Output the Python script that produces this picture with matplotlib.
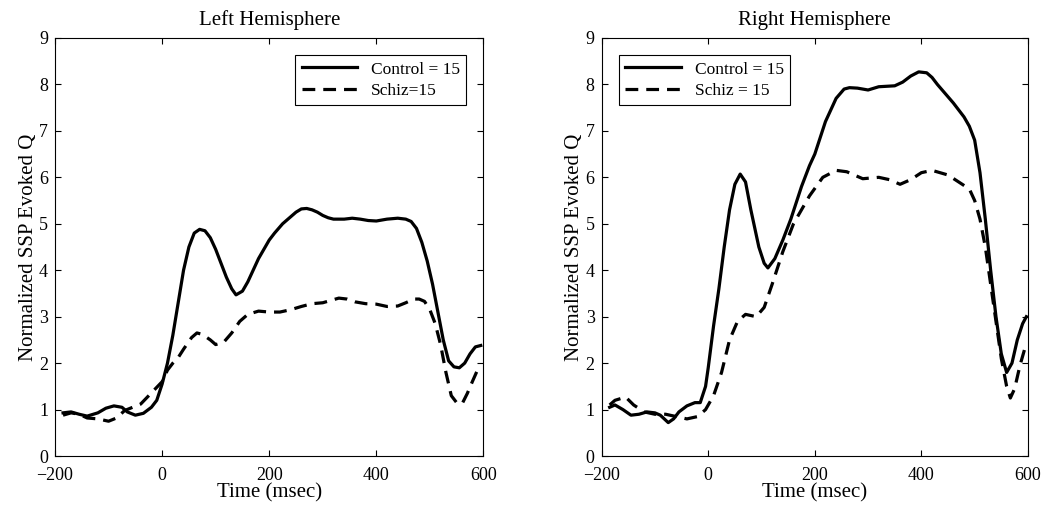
import matplotlib
matplotlib.use("Agg")
import matplotlib.pyplot as plt

plt.rcParams['font.family'] = ['Liberation Serif', 'DejaVu Serif']
plt.rcParams['axes.unicode_minus'] = True

# Left hemisphere, control group (solid)
left_ctrl_t = [-185, -170, -155, -140, -120, -105, -90, -75, -65, -50, -35, -20, -10, 0, 10, 20, 30,
               40, 50, 60, 70, 80, 90, 100, 110, 120, 130, 138, 150, 160, 170, 180, 190, 200, 210,
               225, 240, 250, 260, 270, 280, 290, 300, 310, 320, 340, 355, 370, 385, 400, 420, 440,
               455, 465, 475, 485, 495, 505, 515, 525, 535, 545, 555, 565, 575, 585, 595]
left_ctrl_q = [0.93, 0.95, 0.9, 0.86, 0.93, 1.03, 1.08, 1.05, 0.95, 0.88, 0.92, 1.05, 1.2, 1.55,
               2.0, 2.6, 3.3, 4.0, 4.5, 4.8, 4.88, 4.85, 4.7, 4.45, 4.15, 3.85, 3.6, 3.47, 3.55,
               3.75, 4.0, 4.25, 4.45, 4.65, 4.8, 5.0, 5.15, 5.25, 5.32, 5.33, 5.3, 5.25, 5.18, 5.13,
               5.1, 5.1, 5.12, 5.1, 5.07, 5.06, 5.1, 5.12, 5.1, 5.05, 4.9, 4.6, 4.2, 3.7, 3.1, 2.5,
               2.05, 1.92, 1.9, 2.0, 2.2, 2.35, 2.38]

# Left hemisphere, schizophrenia group (dashed)
left_schiz_t = [-185, -170, -155, -140, -120, -100, -85, -70, -55, -40, -25, -10, 0, 10, 20, 30,
                40, 55, 65, 75, 90, 100, 115, 130, 145, 160, 180, 200, 220, 240, 260, 280, 300, 315,
                330, 345, 360, 380, 400, 420, 440, 455, 470, 480, 490, 500, 510, 520, 530, 540, 550,
                560, 570, 580, 590, 595]
left_schiz_q = [0.88, 0.93, 0.9, 0.82, 0.8, 0.75, 0.82, 0.98, 1.05, 1.12, 1.3, 1.48, 1.6, 1.85,
                2.0, 2.12, 2.3, 2.55, 2.65, 2.62, 2.5, 2.4, 2.45, 2.65, 2.9, 3.05, 3.12, 3.1, 3.1,
                3.15, 3.22, 3.28, 3.3, 3.35, 3.4, 3.38, 3.32, 3.28, 3.27, 3.22, 3.23, 3.3, 3.38, 3.38,
                3.33, 3.15, 2.85, 2.4, 1.8, 1.3, 1.15, 1.12, 1.35, 1.62, 1.88, 1.95]

# Right hemisphere, control group (solid)
right_ctrl_t = [-185, -175, -160, -145, -130, -115, -100, -90, -75, -65, -55, -40, -25, -15, -5, 0,
                10, 20, 30, 40, 50, 60, 70, 80, 95, 105, 112, 125, 140, 155, 175, 190, 200, 220, 240,
                255, 265, 280, 300, 320, 350, 365, 380, 395, 410, 420, 430, 445, 460, 480, 490, 500,
                510, 520, 530, 540, 550, 560, 570, 580, 590, 597]
right_ctrl_q = [1.05, 1.1, 1.0, 0.88, 0.9, 0.95, 0.93, 0.88, 0.72, 0.8, 0.95, 1.08, 1.15, 1.15,
                1.5, 1.9, 2.8, 3.6, 4.5, 5.3, 5.85, 6.07, 5.9, 5.3, 4.5, 4.15, 4.05, 4.25, 4.65,
                5.1, 5.8, 6.25, 6.5, 7.2, 7.7, 7.9, 7.93, 7.92, 7.88, 7.95, 7.97, 8.05, 8.18, 8.27,
                8.25, 8.15, 8.0, 7.8, 7.6, 7.3, 7.1, 6.8, 6.1, 5.1, 4.0, 3.0, 2.2, 1.8, 2.0, 2.5,
                2.85, 3.0]

# Right hemisphere, schizophrenia group (dashed)
right_schiz_t = [-185, -175, -155, -140, -120, -100, -80, -60, -40, -20, -5, 10, 25, 40, 55, 70,
                 90, 105, 120, 140, 160, 190, 215, 240, 260, 290, 320, 340, 360, 380, 400, 420, 450,
                 470, 490, 500, 510, 520, 530, 540, 550, 560, 567, 575, 585, 595]
right_schiz_q = [1.1, 1.2, 1.27, 1.1, 0.95, 0.9, 0.9, 0.85, 0.8, 0.85, 1.0, 1.3, 1.8, 2.5, 2.9,
                 3.05, 3.0, 3.2, 3.7, 4.4, 5.0, 5.6, 6.0, 6.15, 6.12, 5.97, 6.0, 5.95, 5.85, 5.95,
                 6.1, 6.15, 6.05, 5.9, 5.75, 5.5, 5.1, 4.5, 3.7, 2.9, 2.1, 1.5, 1.25, 1.45, 1.95,
                 2.35]

panels = [
    ("Left Hemisphere", left_ctrl_t, left_ctrl_q, left_schiz_t, left_schiz_q,
     "Control = 15", "Schiz=15", "upper right"),
    ("Right Hemisphere", right_ctrl_t, right_ctrl_q, right_schiz_t, right_schiz_q,
     "Control = 15", "Schiz = 15", "upper left"),
]

fig = plt.figure(figsize=(10.5, 5.13), dpi=100)
axes_pos = [[0.0524, 0.111, 0.408, 0.815], [0.573, 0.111, 0.406, 0.815]]

for pos, (title, ct, cq, st, sq, lab_c, lab_s, loc) in zip(axes_pos, panels):
    ax = fig.add_axes(pos)
    ax.plot(ct, cq, color='black', lw=2.3, label=lab_c)
    ax.plot(st, sq, color='black', lw=2.3, dashes=(4, 2.5), label=lab_s)
    ax.set_xlim(-200, 600)
    ax.set_ylim(0, 9)
    ax.set_xticks([-200, 0, 200, 400, 600])
    ax.set_yticks(range(0, 10))
    ax.tick_params(direction='in', top=True, right=True, labelsize=13, length=4)
    ax.tick_params(axis='x', pad=8)
    ax.tick_params(axis='y', pad=5)
    ax.set_xlabel("Time (msec)", fontsize=15, labelpad=-1)
    ax.set_ylabel("Normalized SSP Evoked Q", fontsize=15, labelpad=1)
    ax.set_title(title, fontsize=15, pad=9)
    leg = ax.legend(loc=loc, fontsize=12.5, fancybox=False, framealpha=1,
                    edgecolor='black', handlelength=3.2, borderaxespad=1.0,
                    borderpad=0.35, labelspacing=0.3)
    leg.get_frame().set_linewidth(0.8)

fig.savefig("out.png", dpi=100)
